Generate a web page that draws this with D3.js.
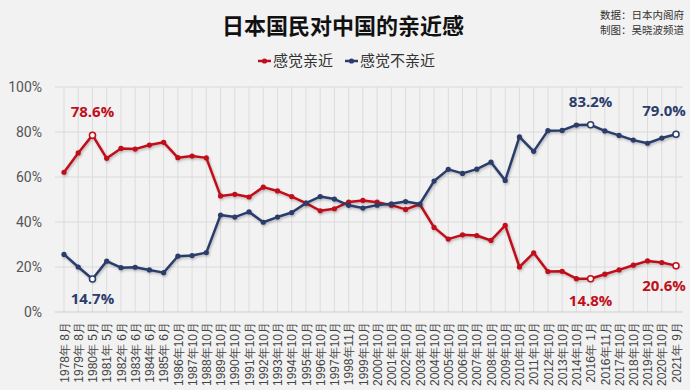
<!DOCTYPE html>
<html>
<head>
<meta charset="utf-8">
<script src="https://cdn.jsdelivr.net/npm/d3@7"></script>
<style>
  body { margin: 0; background: #f2f2f2; }
  svg { display: block; font-family: "Noto Sans CJK SC", "Noto Sans", sans-serif; }
</style>
</head>
<body>
<svg id="chart" width="690" height="390"></svg>
<script>
const categories = [
  '1978年 8月', '1979年 8月', '1980年 5月', '1981年 5月', '1982年 6月', '1983年 6月',
  '1984年 6月', '1985年 6月', '1986年10月', '1987年10月', '1988年10月', '1989年10月',
  '1990年10月', '1991年10月', '1992年10月', '1993年10月', '1994年10月', '1995年10月',
  '1996年10月', '1997年10月', '1998年11月', '1999年10月', '2000年10月', '2001年10月',
  '2002年10月', '2003年10月', '2004年10月', '2005年10月', '2006年10月', '2007年10月',
  '2008年10月', '2009年10月', '2010年10月', '2011年10月', '2012年10月', '2013年10月',
  '2014年10月', '2016年 1月', '2016年11月', '2017年10月', '2018年10月', '2019年10月',
  '2020年10月', '2021年 9月'
];
const closeValues = [
  62.1, 70.7, 78.6, 68.3, 72.7, 72.4, 74.2, 75.4, 68.6, 69.3, 68.5, 51.6,
  52.3, 51.1, 55.5, 53.8, 51.3, 48.4, 45.0, 45.9, 48.9, 49.6, 48.8, 47.5,
  45.6, 47.9, 37.6, 32.4, 34.3, 34.0, 31.8, 38.5, 20.0, 26.3, 18.0, 18.1,
  14.8, 14.8, 16.8, 18.7, 20.8, 22.7, 22.0, 20.6
];
const notCloseValues = [
  25.6, 20.0, 14.7, 22.6, 19.7, 19.9, 18.7, 17.5, 24.8, 25.1, 26.4, 43.1,
  42.2, 44.5, 39.9, 42.2, 44.2, 48.4, 51.3, 50.2, 47.4, 46.2, 47.5, 48.1,
  49.1, 48.0, 58.2, 63.4, 61.6, 63.5, 66.6, 58.5, 77.8, 71.4, 80.6, 80.7,
  83.1, 83.2, 80.5, 78.5, 76.4, 75.0, 77.3, 79.0
];
const yTicks = [0, 20, 40, 60, 80, 100];
const seriesNames = ['感觉亲近', '感觉不亲近'];
const sourceLines = ['数据：日本内阁府', '制图：吴晓波频道'];
const colors = ['#c00f1a', '#2b3d6b'];
// highlighted points: [series index, category index, label dy]
const highlights = [
  [0, 2, -18], [1, 2, 25],
  [1, 37, -18], [0, 37, 27],
  [1, 43, -18], [0, 43, 25]
];

const svg = d3.select('#chart');
const W = 690, H = 390;
svg.append('rect').attr('width', W).attr('height', H).attr('fill', '#f2f2f2');

const x = d3.scalePoint().domain(categories).range([64, 676]);
const y = d3.scaleLinear().domain([0, 100]).range([312, 87]);

// grid
svg.append('g').selectAll('line')
  .data(categories).join('line')
  .attr('x1', d => x(d)).attr('x2', d => x(d))
  .attr('y1', y(100)).attr('y2', y(0))
  .attr('stroke', '#dcdcdc').attr('stroke-width', 1);

svg.append('g').selectAll('line')
  .data(yTicks).join('line')
  .attr('x1', 55).attr('x2', 683)
  .attr('y1', d => y(d)).attr('y2', d => y(d))
  .attr('stroke', d => d === 0 ? '#cfcfcf' : '#dadada').attr('stroke-width', 1);

// y axis
const yAxis = svg.append('g')
  .attr('transform', 'translate(44,0)')
  .call(d3.axisLeft(y).tickValues(yTicks).tickFormat(d => d + '%').tickSize(0));
yAxis.select('.domain').remove();
yAxis.selectAll('text')
  .attr('font-size', 14).attr('fill', '#555').attr('font-family', 'Roboto, "Noto Sans", sans-serif')
  .attr('x', -2);

// x axis labels
const xAxis = svg.append('g')
  .attr('transform', 'translate(0,318)')
  .call(d3.axisBottom(x).tickSize(0));
xAxis.select('.domain').remove();
xAxis.selectAll('text')
  .attr('font-size', 12).attr('fill', '#444')
  .attr('transform', 'rotate(-90)')
  .attr('text-anchor', 'end')
  .attr('x', -4).attr('y', 0).attr('dy', '0.35em');

// shadow
const defs = svg.append('defs');
const f = defs.append('filter').attr('id', 'sh').attr('x', '-5%').attr('y', '-5%').attr('width', '110%').attr('height', '120%');
f.append('feDropShadow').attr('dx', 1).attr('dy', 1.5).attr('stdDeviation', 1)
  .attr('flood-color', '#000').attr('flood-opacity', 0.25);

const allSeries = [closeValues, notCloseValues];
const line = d3.line().x((d, i) => x(categories[i])).y(d => y(d));

allSeries.forEach((vals, s) => {
  const g = svg.append('g').attr('filter', 'url(#sh)');
  g.append('path').datum(vals)
    .attr('d', line)
    .attr('fill', 'none').attr('stroke', colors[s]).attr('stroke-width', 2.5)
    .attr('stroke-linejoin', 'round');
  g.selectAll('circle').data(vals).join('circle')
    .attr('cx', (d, i) => x(categories[i])).attr('cy', d => y(d))
    .attr('r', 2.6).attr('fill', colors[s]);
});

highlights.forEach(([s, i, dy]) => {
  const v = allSeries[s][i];
  svg.append('circle')
    .attr('cx', x(categories[i])).attr('cy', y(v)).attr('r', 3)
    .attr('fill', '#fff').attr('stroke', colors[s]).attr('stroke-width', 1.5);
  let lx = x(categories[i]);
  if (i === categories.length - 1) lx -= 12;
  svg.append('text')
    .attr('x', lx).attr('y', y(v) + dy)
    .attr('text-anchor', 'middle')
    .attr('font-size', 15).attr('font-weight', 'bold')
    .attr('font-family', '"Open Sans", "Noto Sans", sans-serif')
    .attr('fill', colors[s])
    .text(v.toFixed(1) + '%');
});

// title
svg.append('text')
  .attr('x', 343).attr('y', 34).attr('text-anchor', 'middle')
  .attr('font-size', 22).attr('font-weight', 'bold').attr('fill', '#111')
  .text('日本国民对中国的亲近感');

// source
svg.append('g').selectAll('text')
  .data(sourceLines).join('text')
  .attr('x', 600).attr('y', (d, i) => 19 + i * 15)
  .attr('font-size', 10.5).attr('fill', '#333')
  .text(d => d);

// legend
const legend = svg.append('g');
const legendX = [258, 345];
seriesNames.forEach((name, s) => {
  const lg = legend.append('g').attr('transform', `translate(${legendX[s]},61)`);
  lg.append('line').attr('x1', 0).attr('x2', 13).attr('y1', 0).attr('y2', 0)
    .attr('stroke', colors[s]).attr('stroke-width', 2.5);
  lg.append('circle').attr('cx', 6.5).attr('cy', 0).attr('r', 2.6).attr('fill', colors[s]);
  lg.append('text').attr('x', 15).attr('y', 0).attr('dy', '0.36em')
    .attr('font-size', 15).attr('fill', '#333').text(name);
});
</script>
</body>
</html>
